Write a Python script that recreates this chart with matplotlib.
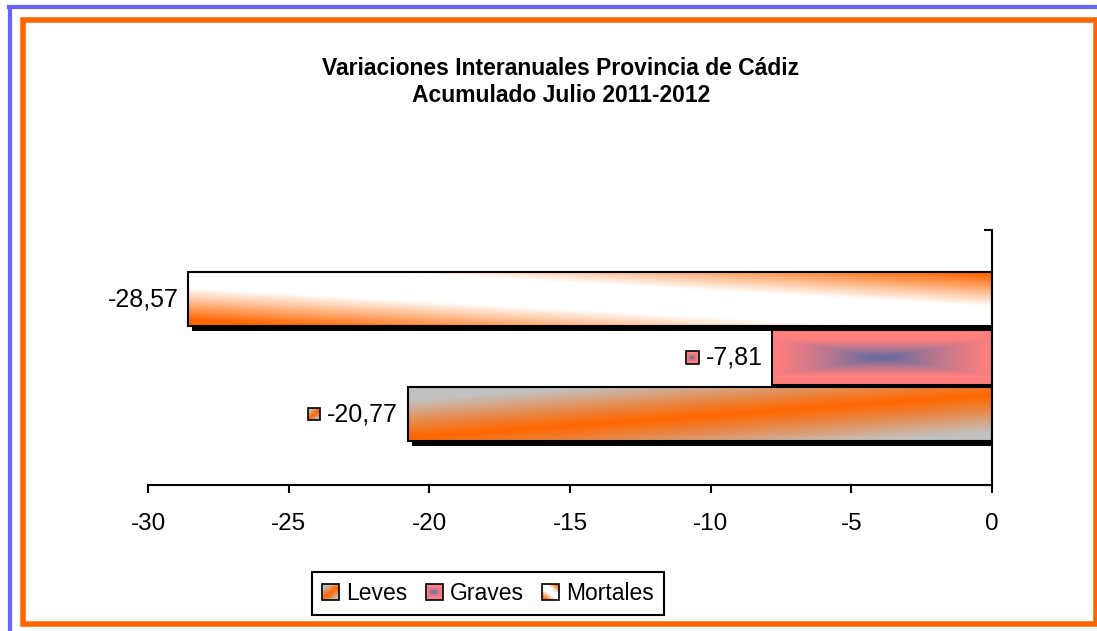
import numpy as np
import matplotlib
matplotlib.use('Agg')
import matplotlib.pyplot as plt
from matplotlib.patches import Rectangle
from matplotlib.lines import Line2D
from matplotlib.legend_handler import HandlerBase
from matplotlib.offsetbox import DrawingArea, TextArea, HPacker, AnnotationBbox
import matplotlib.patheffects as pe

plt.rcParams['font.family'] = ['Liberation Sans', 'DejaVu Sans']

# data
series = ['Leves', 'Graves', 'Mortales']
values = [-20.77, -7.81, -28.57]
label_keys = [True, True, False]
title = 'Variaciones Interanuales Provincia de Cádiz\nAcumulado Julio 2011-2012'
xticks = [-30, -25, -20, -15, -10, -5, 0]

ORANGE = np.array([1.0, 0.4, 0.0])
GRAY = np.array([0.76, 0.76, 0.76])
WHITE = np.array([1.0, 1.0, 1.0])
PINK = np.array([1.0, 0.5, 0.5])
BLUE = np.array([0.36, 0.42, 0.64])


def grad_leves(u, v):
    c = 0.05 + 0.8 * u
    t = np.clip(np.abs(v - c) / 0.7, 0, 1) ** 1.1
    return ORANGE * (1 - t)[..., None] + GRAY * t[..., None]


def grad_graves(u, v):
    w = np.clip(1 - np.maximum(np.abs(2 * u - 1), np.abs(2 * v - 1) / 0.7), 0, 1) ** 1.2
    return PINK * (1 - w)[..., None] + BLUE * w[..., None]


def grad_mortales(u, v):
    c = 0.95 - 0.85 * u
    t = np.clip((np.abs(v - c) - 0.25) / 0.6, 0, 1)
    return WHITE * (1 - t)[..., None] + ORANGE * t[..., None]


gradients = [grad_leves, grad_graves, grad_mortales]


def grid(fn, nx, ny):
    u, v = np.meshgrid(np.linspace(0, 1, nx), np.linspace(0, 1, ny))
    return fn(u, v)


def key_area(fn, size=9.0, n=8):
    da = DrawingArea(size, size, 0, 0)
    img = grid(fn, n, n)
    s = size / n
    for j in range(n):
        for i in range(n):
            da.add_artist(Rectangle((i * s, j * s), s, s, facecolor=img[j, i], edgecolor='none'))
    da.add_artist(Rectangle((0, 0), size, size, facecolor='none', edgecolor='black', linewidth=1.2))
    return da


class GradHandler(HandlerBase):
    def __init__(self, fn):
        super().__init__()
        self.fn = fn

    def create_artists(self, legend, orig_handle, xdescent, ydescent, width, height, fontsize, trans):
        size = height * 1.0
        x0 = -xdescent + (width - size) / 2
        y0 = -ydescent + (height - size) / 2
        n = 8
        img = grid(self.fn, n, n)
        s = size / n
        arts = []
        for j in range(n):
            for i in range(n):
                arts.append(Rectangle((x0 + i * s, y0 + j * s), s, s, facecolor=img[j, i],
                                      edgecolor='none', transform=trans))
        arts.append(Rectangle((x0, y0), size, size, facecolor='none', edgecolor='black',
                              linewidth=1.2, transform=trans))
        return arts


fig = plt.figure(figsize=(10.97, 6.31), dpi=100)

# frame decorations
fig.add_artist(Line2D([8.5 / 1097, 1], [1 - 7 / 631, 1 - 7 / 631], color='#6666ff', lw=3, transform=fig.transFigure))
fig.add_artist(Line2D([9.5 / 1097, 9.5 / 1097], [1 - 7 / 631, 0], color='#6666ff', lw=3, transform=fig.transFigure))
fig.add_artist(Rectangle((22.5 / 1097, 7 / 631), (1095.5 - 22.5) / 1097, (611.5 - 7) / 631,
                         transform=fig.transFigure, facecolor='none', edgecolor='#ff6600', lw=4))

ax = fig.add_axes([148 / 1097, 1 - 485 / 631, (992 - 148) / 1097, (485 - 230) / 631])

ypos = [-0.222, 0.0, 0.228]
bh = 0.212
for val, y, fn in zip(values, ypos, gradients):
    bar = ax.barh(y, val, height=bh, facecolor='black', edgecolor='none', zorder=2,
                  path_effects=[pe.SimplePatchShadow(offset=(3, -3.5), shadow_rgbFace='black', alpha=1.0)])[0]
    img = grid(fn, 200, 40)
    im = ax.imshow(img, extent=(val, 0, y - bh / 2, y + bh / 2), origin='lower',
                   aspect='auto', zorder=2.5, interpolation='bilinear')
    im.set_clip_path(bar)
    ax.add_patch(Rectangle((val, y - bh / 2), -val, bh, facecolor='none', edgecolor='black',
                           lw=1.5, zorder=3))

# data labels
for val, y, fn, k in zip(values, ypos, gradients, label_keys):
    txt = TextArea(f'{val:.2f}'.replace('.', ','), textprops=dict(fontsize=18))
    children = [key_area(fn), txt] if k else [txt]
    box = HPacker(children=children, align='center', pad=0, sep=5)
    ab = AnnotationBbox(box, (val, y), xybox=(-7, 0), xycoords='data', boxcoords='offset points',
                        box_alignment=(1, 0.5), frameon=False, zorder=4)
    ax.add_artist(ab)

ax.set_xlim(-30, 0)
ax.set_ylim(-0.5, 0.5)
ax.set_xticks(xticks)
ax.set_xticklabels([str(t) for t in xticks], fontsize=17.5)
ax.tick_params(axis='x', direction='out', length=6, width=1.5, pad=14)
ax.spines['top'].set_visible(False)
ax.spines['left'].set_visible(False)
ax.spines['right'].set_linewidth(1.5)
ax.spines['bottom'].set_linewidth(1.5)
ax.yaxis.tick_right()
ax.set_yticks([-0.5, 0.5])
ax.set_yticklabels([])
ax.tick_params(axis='y', direction='in', length=6, width=1.5)
ax.set_facecolor('none')

fig.text(561 / 1097, 1 - 82 / 631, title, ha='center', va='center', fontsize=16.5,
         fontweight='bold', linespacing=1.25)

handles = [Rectangle((0, 0), 1, 1) for _ in series]
fig.legend(handles, series, loc='center', bbox_to_anchor=(488 / 1097, 1 - 593.5 / 631),
           ncol=3, fontsize=16.5, frameon=True, fancybox=False, edgecolor='black',
           framealpha=1, handlelength=0.75, handleheight=0.75, handletextpad=0.3, columnspacing=0.8,
           borderpad=0.45, handler_map={h: GradHandler(fn) for h, fn in zip(handles, gradients)})
leg = fig.legends[0]
leg.get_frame().set_linewidth(1.5)

fig.savefig('out.png', dpi=100)
